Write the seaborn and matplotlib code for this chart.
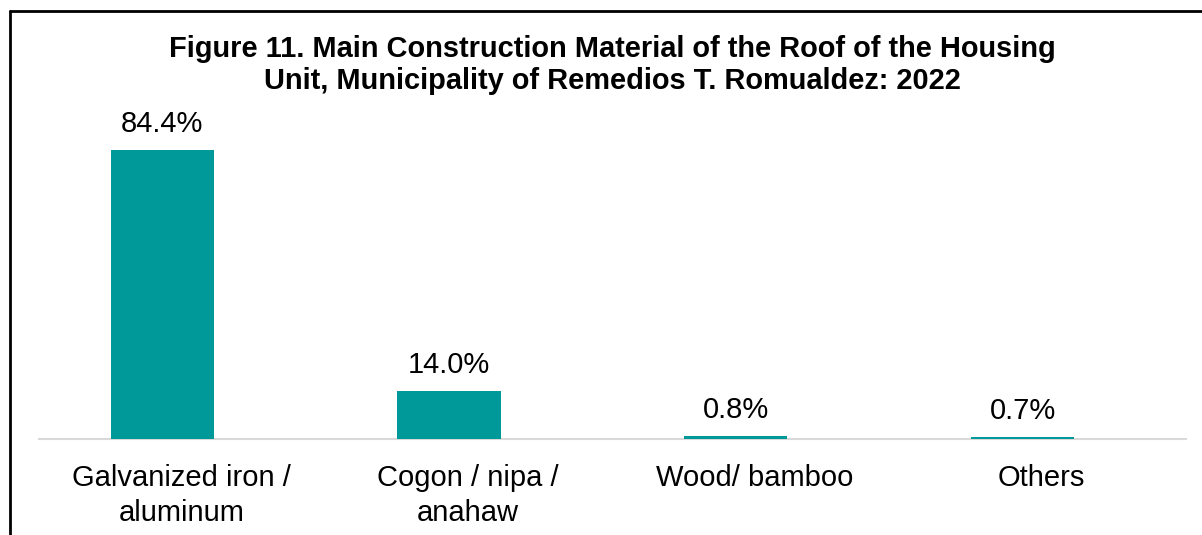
import matplotlib
matplotlib.use("Agg")
import matplotlib.pyplot as plt
import matplotlib.transforms as mtransforms
import seaborn as sns
import pandas as pd
from matplotlib.lines import Line2D

categories = ["Galvanized iron /\naluminum", "Cogon / nipa /\nanahaw", "Wood/ bamboo", "Others"]
values = [84.4, 14.0, 0.8, 0.7]
labels = ["84.4%", "14.0%", "0.8%", "0.7%"]

sns.set_theme(style="white")
plt.rcParams['font.family'] = ['Liberation Sans', 'DejaVu Sans']

W, H = 1202, 535
fig = plt.figure(figsize=(W / 100, H / 100), dpi=100)
left, right = 39, 1186
bottom, top = 439, 131
ax = fig.add_axes([left / W, 1 - bottom / H, (right - left) / W, (bottom - top) / H])

df = pd.DataFrame({"cat": categories, "val": values})
sns.barplot(data=df, x="cat", y="val", ax=ax, color="#009999", width=0.36,
            saturation=1, edgecolor="none")
for p in ax.patches:
    p.set_zorder(3)
ax.set_ylim(0, 90)
ax.set_xlim(-0.43, 3.57)

for i, (v, lab) in enumerate(zip(values, labels)):
    ax.annotate(lab, (i, v), xytext=(0, 8.5), textcoords="offset points",
                ha="center", va="bottom", fontsize=21, color="black")

ax.set_xlabel("")
ax.set_ylabel("")
ax.set_yticks([])
ax.tick_params(axis="x", length=0, pad=18, labelsize=21, labelcolor="black")
shift = mtransforms.ScaledTranslation(19 / 100, 0, fig.dpi_scale_trans)
for t in ax.get_xticklabels():
    t.set_linespacing(1.32)
    t.set_transform(t.get_transform() + shift)
for s in ["top", "right", "left"]:
    ax.spines[s].set_visible(False)
ax.spines["bottom"].set_color("#d9d9d9")
ax.spines["bottom"].set_linewidth(1.5)
ax.spines["bottom"].set_zorder(2)

fig.text(612 / W, 1 - 35 / H,
         "Figure 11. Main Construction Material of the Roof of the Housing\nUnit, Municipality of Remedios T. Romualdez: 2022",
         ha="center", va="top", fontsize=20.9, fontweight="bold", color="black",
         linespacing=1.2)

fig.add_artist(Line2D([10 / W, 1.0], [1 - 11 / H, 1 - 11 / H], color="black", lw=2,
                      transform=fig.transFigure))
fig.add_artist(Line2D([10 / W, 10 / W], [1 - 11 / H, 0], color="black", lw=2,
                      transform=fig.transFigure))

fig.savefig("out.png", dpi=100, facecolor="white")
